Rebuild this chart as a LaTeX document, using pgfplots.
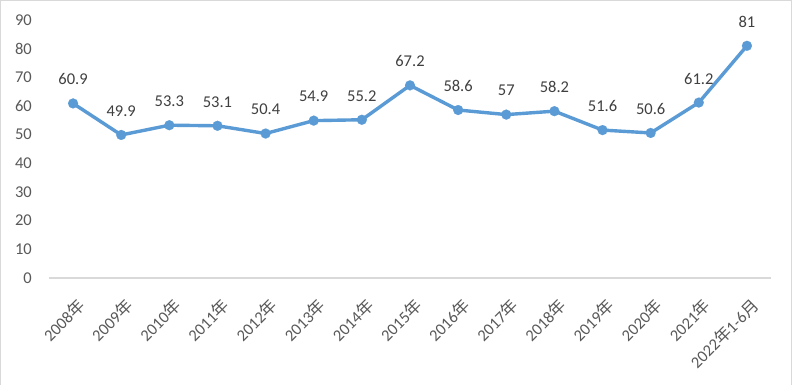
\documentclass[border=0pt]{standalone}
\usepackage{pgfplots}
\pgfplotsset{compat=1.18}
\usepackage{fontspec}
\setmainfont{Carlito}
\newfontfamily\cjk{Noto Sans CJK SC}
\definecolor{lineblue}{RGB}{91,155,213}
\definecolor{ticktext}{RGB}{89,89,89}
\definecolor{labeltext}{RGB}{64,64,64}
\definecolor{bordergray}{RGB}{217,217,217}
\begin{document}
\begin{tikzpicture}
\useasboundingbox (0,0) rectangle (795bp,385bp);
\fill[white] (0,0) rectangle (795bp,385bp);
\draw[bordergray, line width=1.2bp] (0.8bp,0) -- (0.8bp,384.2bp) -- (791.8bp,384.2bp) -- (791.8bp,0);
\begin{axis}[
  at={(49bp,107bp)}, anchor=south west,
  scale only axis, width=722bp, height=258bp,
  xmin=-0.5, xmax=14.5, ymin=0, ymax=90,
  enlargelimits=false,
  clip=false,
  axis x line*=bottom, axis y line*=left,
  x axis line style={draw=bordergray, line width=1.5bp, -},
  y axis line style={draw=none},
  major tick length=0pt,
  ytick={0,10,...,90},
  xtick={0,...,14},
  xticklabels={2008{\cjk 年},2009{\cjk 年},2010{\cjk 年},2011{\cjk 年},2012{\cjk 年},2013{\cjk 年},2014{\cjk 年},2015{\cjk 年},2016{\cjk 年},2017{\cjk 年},2018{\cjk 年},2019{\cjk 年},2020{\cjk 年},2021{\cjk 年},2022{\cjk 年}1-6{\cjk 月}},
  /pgf/number format/assume math mode=true,
  tick label style={font=\fontsize{16.5bp}{18bp}\selectfont, text=ticktext},
  yticklabel style={anchor=east, inner sep=0pt, xshift=-17bp},
  xticklabel style={xshift=3bp, yshift=-19bp, rotate=45, anchor=north east, inner sep=0pt},
  nodes near coords,
  every node near coord/.append style={anchor=center, yshift=24bp, font=\fontsize{16.5bp}{18bp}\selectfont, text=labeltext},
]
\addplot[color=lineblue, line width=3.4bp, line join=round, mark=*, mark size=5bp, mark options={fill=lineblue, draw=lineblue, line width=0.1bp}]
coordinates {(0,60.9) (1,49.9) (2,53.3) (3,53.1) (4,50.4) (5,54.9) (6,55.2) (7,67.2) (8,58.6) (9,57) (10,58.2) (11,51.6) (12,50.6) (13,61.2) (14,81)};
\end{axis}
\end{tikzpicture}
\end{document}
